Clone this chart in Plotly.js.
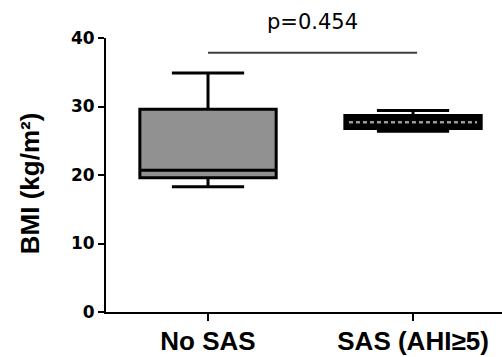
<!DOCTYPE html>
<html>
<head>
<meta charset="utf-8">
<script src="https://cdn.plot.ly/plotly-3.0.1.min.js"></script>
<style>html,body{margin:0;padding:0;background:#fff;}#chart{width:502px;height:357px;}</style>
</head>
<body>
<div id="chart"></div>
<script>
// Data
const categories = ['No SAS', 'SAS (AHI\u22655)'];
const lowerWhisker = [18.3, 26.4];
const q1Values = [19.6, 26.8];
const medianValues = [20.7, 27.7];
const q3Values = [29.6, 28.7];
const upperWhisker = [34.9, 29.4];
const yTickValues = [0, 10, 20, 30, 40];
const pValueLabel = 'p=0.454';
const pBarLevel = 37.85;

const positions = categories.map((c, i) => i);
const boxWidth = 0.665;
const fills = ['#919191', '#000000'];

const traces = categories.map((c, i) => ({
  type: 'box',
  x: [positions[i]],
  q1: [q1Values[i]],
  median: [medianValues[i]],
  q3: [q3Values[i]],
  lowerfence: [lowerWhisker[i]],
  upperfence: [upperWhisker[i]],
  width: boxWidth,
  whiskerwidth: 0.53,
  fillcolor: fills[i],
  line: {color: '#000000', width: 3},
  boxpoints: false,
  hoverinfo: 'skip',
  showlegend: false
}));

// checkered (dashed grey) median for the second box
traces.push({
  type: 'scatter',
  mode: 'lines',
  x: [positions[1] - boxWidth / 2 + 0.02, positions[1] + boxWidth / 2 - 0.02],
  y: [medianValues[1], medianValues[1]],
  line: {color: '#9a9a9a', width: 2.5, dash: '4px,3px'},
  hoverinfo: 'skip',
  showlegend: false
});

const layout = {
  width: 502,
  height: 357,
  margin: {l: 106, r: 0, t: 37.5, b: 44.5, pad: 0},
  paper_bgcolor: '#ffffff',
  plot_bgcolor: '#ffffff',
  showlegend: false,
  boxmode: 'overlay',
  xaxis: {
    range: [-0.4976, 1.434],
    tickvals: positions,
    ticktext: categories,
    ticks: 'outside',
    ticklen: 7,
    tickwidth: 2,
    tickcolor: '#000',
    showline: true,
    linecolor: '#000',
    linewidth: 2,
    showgrid: false,
    zeroline: false,
    ticklabelstandoff: -2,
    tickfont: {family: 'Liberation Sans, Arial, sans-serif', size: 26, color: '#000', weight: 'bold'},
    fixedrange: true
  },
  yaxis: {
    range: [0, 40],
    tickvals: yTickValues,
    ticks: 'outside',
    ticklen: 6,
    tickwidth: 2,
    tickcolor: '#000',
    showline: true,
    linecolor: '#000',
    linewidth: 2,
    showgrid: false,
    zeroline: false,
    tickfont: {family: 'DejaVu Sans, sans-serif', size: 17, color: '#000', weight: 'bold'},
    fixedrange: true
  },
  shapes: [{
    type: 'line', xref: 'x', yref: 'y',
    x0: positions[0], x1: positions[1] + 0.02, y0: pBarLevel, y1: pBarLevel,
    line: {color: '#404040', width: 2}
  }],
  annotations: [
    {
      text: pValueLabel, xref: 'x', yref: 'paper',
      x: (positions[0] + positions[1]) / 2 + 0.012, y: 1.06,
      xanchor: 'center', yanchor: 'middle', showarrow: false,
      font: {family: 'DejaVu Sans, sans-serif', size: 21, color: '#000'}
    },
    {
      text: 'BMI (kg/m\u00b2)', xref: 'paper', yref: 'paper',
      x: 0, y: 0.47, xshift: -76, textangle: -90,
      xanchor: 'center', yanchor: 'middle', showarrow: false,
      font: {family: 'Liberation Sans, Arial, sans-serif', size: 26, color: '#000', weight: 'bold'}
    }
  ]
};

Plotly.newPlot('chart', traces, layout, {staticPlot: true, displayModeBar: false});
</script>
</body>
</html>
